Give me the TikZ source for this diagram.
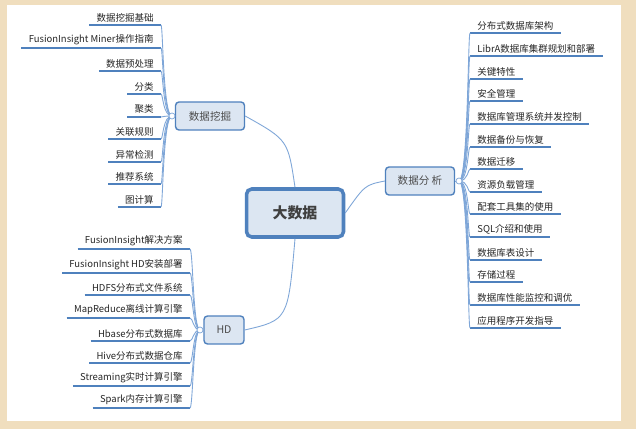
\documentclass[tikz,border=0pt]{standalone}
\usepackage{fontspec}
\setmainfont{Noto Sans CJK SC}
\usetikzlibrary{positioning}
\definecolor{bg}{RGB}{240,222,190}
\definecolor{linkblue}{RGB}{79,129,189}
\definecolor{thinblue}{RGB}{126,166,216}
\definecolor{boxfill}{RGB}{220,230,242}
\tikzset{
  topic/.style={draw=linkblue, fill=boxfill, rounded corners=2pt, line width=0.8pt,
    font=\fontsize{6}{7}\selectfont, text=black!70, minimum height=0.56cm, minimum width=1.38cm},
  leaf/.style={inner xsep=4pt, inner ysep=1.6pt, font=\fontsize{5.4}{6}\selectfont, text=black!85},
  under/.style={draw=linkblue, line width=1pt},
  link/.style={draw=thinblue, line width=0.5pt},
  knob/.style={draw=thinblue, fill=white, line width=0.4pt}
}
\begin{document}
\begin{tikzpicture}[x=0.02cm, y=-0.02cm]
  \fill[bg] (0,0) rectangle (636,429);
  \fill[white] (7,5) rectangle (621,421);
  \useasboundingbox (0,0) rectangle (636,429);

  % main topics
  \node[topic, line width=2pt, rounded corners=3pt, minimum width=1.94cm, minimum height=0.96cm,
    font=\fontsize{8.5}{9}\bfseries\selectfont, text=black!75] (big) at (295,213) {大数据};
  \node[topic] (dm) at (210,116) {数据挖掘};
  \node[topic] (fx) at (420,181) {数据分 析};
  \node[topic, minimum width=0.8cm] (hd) at (224,330) {HD};

  \draw[link] (big.north) .. controls (288,140) .. (dm.east);
  \draw[link] (big.east) .. controls (365,185) .. (fx.west);
  \draw[link] (big.south) .. controls (288,320) .. (hd.east);

  \coordinate (dmk) at (172,116);
  \coordinate (fxk) at (459,181);
  \coordinate (hdk) at (200,330);

  % data mining
  \foreach \txt/\ly [count=\i] in {数据挖掘基础/25,FusionInsight Miner操作指南/48,数据预处理/71,
      分类/94,聚类/117,关联规则/139,异常检测/162,推荐系统/184,图计算/207}{
    \node[leaf, anchor=south east] (dm\i) at (161,\ly) {\txt};
    \draw[under] (dm\i.south west) -- (dm\i.south east);
    \draw[link] (dmk) .. controls (163,116) and (163,\ly) .. (dm\i.south east);
  }
  \draw[link] (dm.west) -- (dmk);
  \draw[knob] (dmk) circle (3);

  % data analysis
  \foreach \txt/\ly [count=\i] in {分布式数据库架构/33,LibrA数据库集群规划和部署/56,关键特性/79,
      安全管理/101,数据库管理系统并发控制/124,数据备份与恢复/147,数据迁移/169,资源负载管理/192,
      配套工具集的使用/214,SQL介绍和使用/237,数据库表设计/260,存储过程/282,
      数据库性能监控和调优/305,应用程序开发指导/328}{
    \node[leaf, anchor=south west] (fx\i) at (470,\ly) {\txt};
    \draw[under] (fx\i.south west) -- (fx\i.south east);
    \draw[link] (fxk) .. controls (468,181) and (468,\ly) .. (fx\i.south west);
  }
  \draw[link] (fx.east) -- (fxk);
  \draw[knob] (fxk) circle (3);

  % HD
  \foreach \txt/\ly [count=\i] in {FusionInsight解决方案/249,FusionInsight HD安装部署/273,
      HDFS分布式文件系统/295,MapReduce离线计算引擎/318,Hbase分布式数据库/341,
      Hive分布式数据仓库/363,Streaming实时计算引擎/386,Spark内存计算引擎/408}{
    \node[leaf, anchor=south east] (hd\i) at (190,\ly) {\txt};
    \draw[under] (hd\i.south west) -- (hd\i.south east);
    \draw[link] (hdk) .. controls (193,330) and (193,\ly) .. (hd\i.south east);
  }
  \draw[link] (hd.west) -- (hdk);
  \draw[knob] (hdk) circle (3);
\end{tikzpicture}
\end{document}
